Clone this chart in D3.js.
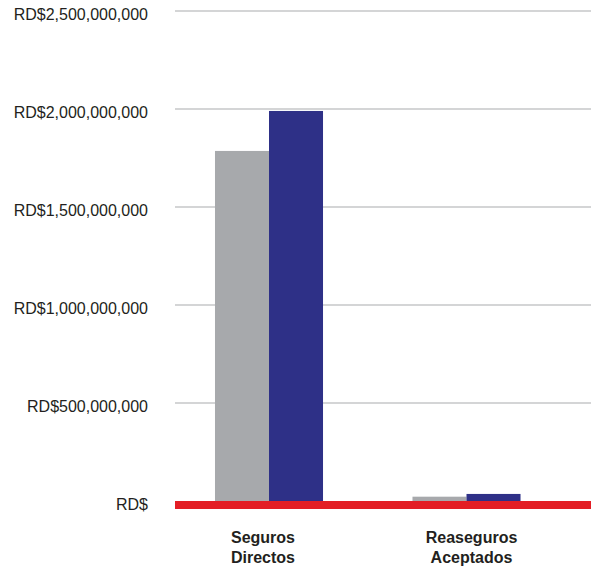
<!DOCTYPE html>
<html><head><meta charset="utf-8">
<script src="https://cdn.jsdelivr.net/npm/d3@7"></script>
<style>body{margin:0;background:#fff}svg{display:block}</style>
</head><body>
<script>
const categories = [["Seguros","Directos"],["Reaseguros","Aceptados"]];
const seriesPrev = [1786000000, 22000000];
const seriesCurr = [1990000000, 36000000];
const tickValues = [0, 500000000, 1000000000, 1500000000, 2000000000, 2500000000];
const tickLabels = ["RD$","RD$500,000,000","RD$1,000,000,000","RD$1,500,000,000","RD$2,000,000,000","RD$2,500,000,000"];
const colors = ["#a7a9ac", "#2e3087"];

const W = 591, H = 567;
const svg = d3.select("body").append("svg").attr("width", W).attr("height", H);

const y = d3.scaleLinear().domain([0, 2500000000]).range([501, 11]);
const x = d3.scaleBand().domain(d3.range(categories.length)).range([170.25, 565.25]).paddingInner(0.453).paddingOuter(0.2265);
const xs = d3.scaleBand().domain([0,1]).range([0, x.bandwidth()]);
const labelShift = [-6, 5];

// gridlines
svg.append("g").selectAll("line").data(tickValues.filter(d => d > 0)).join("line")
  .attr("x1", 175).attr("x2", 591)
  .attr("y1", d => y(d)).attr("y2", d => y(d))
  .attr("stroke", "#d4d5d6").attr("stroke-width", 2);

// tick labels
svg.append("g").selectAll("text").data(tickValues).join("text")
  .attr("x", 148).attr("y", d => y(d) + 9)
  .attr("text-anchor", "end")
  .attr("font-family", "Liberation Sans, Arial, sans-serif")
  .attr("font-size", 16).attr("fill", "#231f20")
  .text((d, i) => tickLabels[i]);

// bars
const series = [seriesPrev, seriesCurr];
series.forEach((s, si) => {
  svg.append("g").selectAll("rect").data(s).join("rect")
    .attr("x", (d, i) => x(i) + xs(si))
    .attr("width", xs.bandwidth())
    .attr("y", d => y(d))
    .attr("height", d => y(0) - y(d))
    .attr("fill", colors[si]);
});

// red baseline band
svg.append("rect").attr("x", 175).attr("width", 416).attr("y", y(0)).attr("height", 8).attr("fill", "#e31e25");

// category labels
const cl = svg.append("g").selectAll("text").data(categories).join("text")
  .attr("text-anchor", "middle")
  .attr("font-family", "Liberation Sans, Arial, sans-serif")
  .attr("font-size", 16).attr("font-weight", "bold").attr("fill", "#231f20");
cl.each(function(d, i) {
  const t = d3.select(this);
  d.forEach((line, li) => {
    t.append("tspan").attr("x", x(i) + x.bandwidth() / 2 + labelShift[i]).attr("y", 543 + li * 20).text(line);
  });
});
</script>
</body></html>
